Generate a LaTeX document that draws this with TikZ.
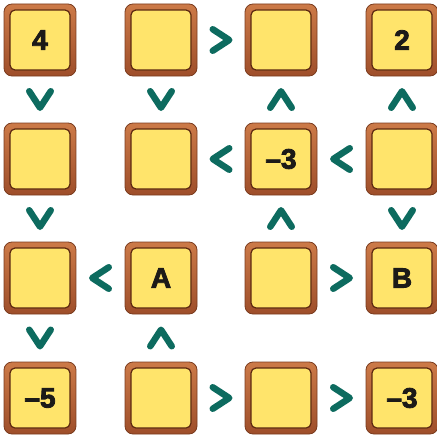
\documentclass[tikz,border=0pt]{standalone}
\usepackage{fontspec}
\newfontfamily\tilefont[FakeBold=3]{Liberation Sans Bold}
\usetikzlibrary{calc}
\definecolor{tileyellow}{HTML}{FFE46B}
\definecolor{frametop}{HTML}{CC7A48}
\definecolor{framebot}{HTML}{9E4E2A}
\definecolor{edgebrown}{HTML}{7A3B1E}
\definecolor{innerdark}{HTML}{5C2810}
\definecolor{chevteal}{HTML}{0D6B5F}
\definecolor{digit}{HTML}{1C1A18}
\newcommand\tiletext{\tilefont\fontsize{28}{28}\selectfont}
\tikzset{
  tile/.style={rectangle, minimum size=72pt, inner sep=0pt, rounded corners=8pt,
    draw=edgebrown, line width=0.8pt, top color=frametop, bottom color=framebot,
    text=digit, font=\tiletext,
    path picture={\draw[draw=innerdark, line width=1.2pt, fill=tileyellow, rounded corners=5pt]
      ([shift={(6pt,6pt)}]path picture bounding box.south west) rectangle
      ([shift={(-6pt,-6pt)}]path picture bounding box.north east);}},
  chev/.style={draw=chevteal, line width=6.5pt, line cap=round, line join=round},
  chR/.pic={\draw[chev] (-8.25pt,10.75pt) -- (8.25pt,0pt) -- (-8.25pt,-10.75pt);},
  chL/.pic={\draw[chev] (8.25pt,10.75pt) -- (-8.25pt,0pt) -- (8.25pt,-10.75pt);},
  chU/.pic={\draw[chev] (-10.75pt,-8.25pt) -- (0pt,8.25pt) -- (10.75pt,-8.25pt);},
  chD/.pic={\draw[chev] (-10.75pt,8.25pt) -- (0pt,-8.25pt) -- (10.75pt,8.25pt);}
}
\begin{document}
\begin{tikzpicture}[x=1pt,y=-1pt]
\useasboundingbox (0,0) rectangle (436,436);
% row 1
\node[tile] (t11) at (40,40) {4};
\node[tile] (t12) at (161,40) {};
\node[tile] (t13) at (281,40) {};
\node[tile] (t14) at (402,40) {2};
% row 2
\node[tile] (t21) at (40,159) {};
\node[tile] (t22) at (161,159) {};
\node[tile] (t23) at (281,159) {–3};
\node[tile] (t24) at (402,159) {};
% row 3
\node[tile] (t31) at (40,278) {};
\node[tile] (t32) at (161,278) {A};
\node[tile] (t33) at (281,278) {};
\node[tile] (t34) at (402,278) {B};
% row 4
\node[tile] (t41) at (40,398) {–5};
\node[tile] (t42) at (161,398) {};
\node[tile] (t43) at (281,398) {};
\node[tile] (t44) at (402,398) {–3};
% chevrons
\pic at ($(t12)!.5!(t13)$) {chR};
\pic at ($(t11)!.5!(t21)$) {chD};
\pic at ($(t12)!.5!(t22)$) {chD};
\pic at ($(t13)!.5!(t23)$) {chU};
\pic at ($(t14)!.5!(t24)$) {chU};
\pic at ($(t22)!.5!(t23)$) {chL};
\pic at ($(t23)!.5!(t24)$) {chL};
\pic at ($(t21)!.5!(t31)$) {chD};
\pic at ($(t23)!.5!(t33)$) {chU};
\pic at ($(t24)!.5!(t34)$) {chD};
\pic at ($(t31)!.5!(t32)$) {chL};
\pic at ($(t33)!.5!(t34)$) {chR};
\pic at ($(t31)!.5!(t41)$) {chD};
\pic at ($(t32)!.5!(t42)$) {chU};
\pic at ($(t42)!.5!(t43)$) {chR};
\pic at ($(t43)!.5!(t44)$) {chR};
\end{tikzpicture}
\end{document}
